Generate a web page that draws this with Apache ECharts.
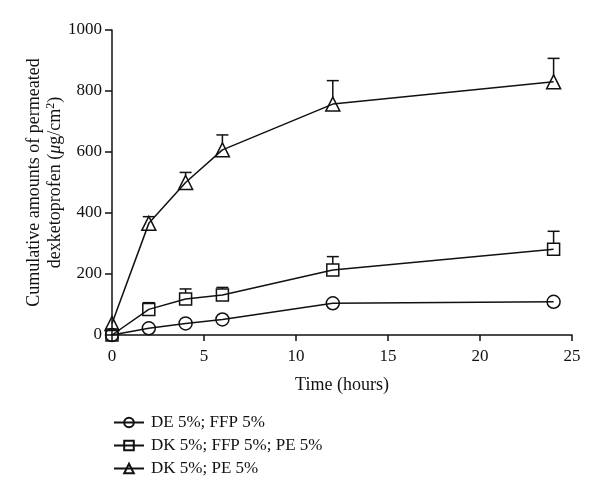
<!DOCTYPE html>
<html>
<head>
<meta charset="utf-8">
<script src="https://cdn.jsdelivr.net/npm/echarts@6/dist/echarts.min.js"></script>
<style>html,body{margin:0;padding:0;background:#fff}#c{width:600px;height:500px}</style>
</head>
<body>
<div id="c"></div>
<script>
var hours = [0, 2, 4, 6, 12, 24];
var seriesNames = ['DE 5%; FFP 5%', 'DK 5%; FFP 5%; PE 5%', 'DK 5%; PE 5%'];
var deFfp = [0, 22, 38, 51, 104, 109];
var dkFfpPe = [0, 84, 118, 131, 213, 281];
var dkPe = [38, 366, 500, 607, 757, 830];
var dkFfpPeUpper = [null, 106, 151, 156, 257, 340];
var dkPeUpper = [null, 388, 533, 656, 834, 907];
var xTicks = [0, 5, 10, 15, 20, 25];
var yTicks = [0, 200, 400, 600, 800, 1000];

var FONT = 'Liberation Serif';
function pairs(xs, ys) { return xs.map(function (x, i) { return [x, ys[i]]; }); }
function errData(xs, ys, up) {
  var out = [];
  xs.forEach(function (x, i) { if (up[i] != null) out.push([x, ys[i], up[i]]); });
  return out;
}
function errSeries(data) {
  return {
    type: 'custom', silent: true, z: 1,
    data: data,
    encode: { x: 0, y: [1, 2] },
    renderItem: function (params, api) {
      var p0 = api.coord([api.value(0), api.value(1)]);
      var p1 = api.coord([api.value(0), api.value(2)]);
      var half = 6;
      var st = { stroke: '#111', lineWidth: 1.5 };
      return {
        type: 'group',
        children: [
          { type: 'line', shape: { x1: p0[0], y1: p0[1] - 6, x2: p1[0], y2: p1[1] }, style: st },
          { type: 'line', shape: { x1: p1[0] - half, y1: p1[1], x2: p1[0] + half, y2: p1[1] }, style: st }
        ]
      };
    }
  };
}
function lineSeries(name, data, symbol, size) {
  return {
    name: name, type: 'line', data: data, symbol: symbol, symbolSize: size,
    showAllSymbol: true, z: 3,
    lineStyle: { color: '#111', width: 1.5 },
    itemStyle: { color: 'rgba(255,255,255,0)', borderColor: '#111', borderWidth: 1.5 }
  };
}

var chart = echarts.init(document.getElementById('c'), null, { renderer: 'canvas' });
chart.setOption({
  animation: false,
  backgroundColor: '#fff',
  textStyle: { fontFamily: FONT, color: '#111' },
  grid: { left: 112, right: 28, top: 30, bottom: 165 },
  xAxis: {
    type: 'value', min: xTicks[0], max: xTicks[xTicks.length - 1], interval: 5,
    name: 'Time (hours)', nameLocation: 'middle', nameGap: 41,
    nameTextStyle: { fontFamily: FONT, fontSize: 18, color: '#111' },
    axisLine: { lineStyle: { color: '#111', width: 1.5 } },
    axisTick: { length: 6, lineStyle: { color: '#111', width: 1.5 } },
    axisLabel: { fontFamily: FONT, fontSize: 17, color: '#111', margin: 13 },
    splitLine: { show: false }
  },
  yAxis: {
    type: 'value', min: yTicks[0], max: yTicks[yTicks.length - 1], interval: 200,
    name: '{a|Cumulative amounts of permeated}\n{a|dexketoprofen (}{i|μ}{a|g/cm}{s|2}{a|)}',
    nameLocation: 'middle', nameGap: 46, nameRotate: 90, nameMoveOverlap: false,
    nameTextStyle: {
      fontFamily: FONT, color: '#111',
      rich: {
        a: { fontFamily: FONT, fontSize: 18, color: '#111', lineHeight: 21 },
        i: { fontFamily: FONT, fontSize: 18, fontStyle: 'italic', color: '#111', lineHeight: 21 },
        s: { fontFamily: FONT, fontSize: 12, color: '#111', lineHeight: 21, padding: [0, 0, 10, 0] }
      }
    },
    axisLine: { show: true, lineStyle: { color: '#111', width: 1.5 } },
    axisTick: { show: true, length: 7, lineStyle: { color: '#111', width: 1.5 } },
    axisLabel: { fontFamily: FONT, fontSize: 17, color: '#111', margin: 10,
      formatter: function (v) { return String(v); } },
    splitLine: { show: false }
  },
  legend: {
    orient: 'vertical', left: 108, top: 409,
    itemWidth: 30, itemHeight: 12, itemGap: 6,
    data: seriesNames,
    textStyle: { fontFamily: FONT, fontSize: 17, color: '#111', padding: [0, 0, 0, 2] }
  },
  series: [
    lineSeries(seriesNames[0], pairs(hours, deFfp), 'circle', 13),
    lineSeries(seriesNames[1], pairs(hours, dkFfpPe), 'rect', 12),
    lineSeries(seriesNames[2], pairs(hours, dkPe), 'triangle', 14),
    errSeries(errData(hours, dkFfpPe, dkFfpPeUpper)),
    errSeries(errData(hours, dkPe, dkPeUpper))
  ]
});
</script>
</body>
</html>
